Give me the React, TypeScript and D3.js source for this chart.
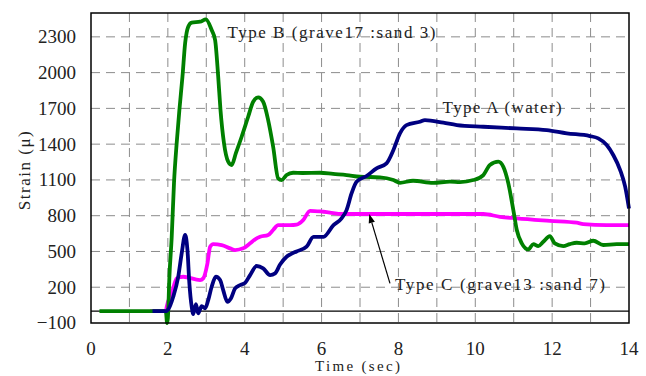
import React from "react";
import * as d3 from "d3";

// Strain records over time for three fill types: [time (sec), strain (μ)]
const typeA: [number, number][] = [
  [1.6, 0], [1.97, 0], [2.01, 14], [2.14, 120], [2.27, 288], [2.36, 484], [2.45, 638], [2.51, 512],
  [2.56, 232], [2.62, 36], [2.66, -25], [2.73, 59], [2.79, -19], [2.88, 42], [2.97, 23], [3.05, 92],
  [3.14, 204], [3.25, 288], [3.36, 260], [3.44, 176], [3.55, 78], [3.64, 106], [3.75, 190], [3.88, 218],
  [4.01, 237], [4.14, 302], [4.31, 378], [4.48, 358], [4.66, 302], [4.79, 316], [4.92, 390], [5.09, 456],
  [5.2, 478], [5.35, 500], [5.61, 540], [5.79, 623], [6.05, 623], [6.31, 721], [6.52, 778], [6.65, 847],
  [6.78, 987], [6.91, 1085], [7.17, 1133], [7.43, 1197], [7.69, 1239], [7.87, 1351], [8.04, 1491],
  [8.21, 1560], [8.56, 1588], [8.69, 1602], [9.17, 1580], [9.52, 1560], [10.21, 1546], [11.08, 1532],
  [11.86, 1518], [12.38, 1491], [12.98, 1468], [13.2, 1449], [13.42, 1393], [13.59, 1309], [13.77, 1183],
  [13.9, 1043], [14.0, 860],
];

const typeB: [number, number][] = [
  [0.22, 0], [1.9, 0], [1.95, -10], [1.98, -100], [2.0, -60], [2.04, 285], [2.1, 620], [2.16, 1075],
  [2.23, 1410], [2.3, 1686], [2.38, 1966], [2.45, 2248], [2.53, 2385], [2.62, 2420], [2.84, 2427],
  [2.99, 2447], [3.14, 2357], [3.23, 2273], [3.31, 1966], [3.37, 1686], [3.46, 1410], [3.57, 1253],
  [3.66, 1225], [3.77, 1325], [3.92, 1462], [4.09, 1630], [4.22, 1756], [4.35, 1793], [4.48, 1756],
  [4.61, 1602], [4.74, 1378], [4.87, 1113], [4.96, 1099], [5.09, 1141], [5.26, 1160], [5.5, 1158],
  [5.96, 1160], [6.3, 1150], [6.65, 1141], [7.0, 1127], [7.52, 1122], [7.87, 1099], [8.04, 1076],
  [8.38, 1093], [8.9, 1076], [9.34, 1085], [9.6, 1082], [9.95, 1099], [10.21, 1141], [10.38, 1225],
  [10.6, 1253], [10.73, 1210], [10.86, 1071], [10.99, 847], [11.08, 680], [11.21, 568], [11.38, 517],
  [11.51, 562], [11.64, 545], [11.77, 581], [11.94, 629], [12.07, 568], [12.29, 545], [12.46, 562],
  [12.64, 573], [12.85, 568], [13.07, 590], [13.33, 554], [13.68, 562], [14.0, 562],
];

const typeC: [number, number][] = [
  [1.54, 0], [1.95, 0], [1.97, 36], [2.1, 148], [2.23, 274], [2.4, 288], [2.84, 260], [2.92, 274],
  [3.03, 400], [3.1, 540], [3.18, 562], [3.4, 554], [3.62, 526], [3.75, 512], [3.96, 526], [4.14, 568],
  [4.27, 601], [4.4, 623], [4.61, 638], [4.74, 680], [4.87, 721], [5.18, 721], [5.35, 725], [5.52, 763],
  [5.7, 841], [6.05, 833], [6.57, 814], [9.34, 814], [10.21, 814], [10.64, 791], [11.08, 778],
  [11.94, 757], [12.64, 741], [12.81, 730], [13.42, 721], [14.0, 721],
];

const yTicks = [-100, 200, 500, 800, 1100, 1400, 1700, 2000, 2300];
const xTicks = [0, 2, 4, 6, 8, 10, 12, 14];
const xGrid = [1, 2, 3, 4, 5, 6, 7, 8, 9, 10, 11, 12, 13];

const labelB = "Type B (grave17 :sand 3)";
const labelA = "Type A (water)";
const labelC = "Type C (grave13 :sand 7)";

const W = 646;
const H = 376;
const left = 91;
const right = 629;
const top = 13;
const bottom = 323;

const FONT = "'Liberation Serif', 'DejaVu Serif', serif";

export default function App() {
  const x = d3.scaleLinear().domain([0, 14]).range([left, right]);
  const y = d3.scaleLinear().domain([-100, 2500]).range([bottom, top]);

  const line = d3
    .line<[number, number]>()
    .x((d) => x(d[0]))
    .y((d) => y(d[1]))
    .curve(d3.curveMonotoneX);

  const gridColor = "#8c8c8c";
  const dash = "9,6";

  // arrow from Type C label to its curve
  const arrowFrom: [number, number] = [7.78, 232];
  const arrowTo: [number, number] = [7.24, 814];
  const ax0 = x(arrowFrom[0]);
  const ay0 = y(arrowFrom[1]);
  const ax1 = x(arrowTo[0]);
  const ay1 = y(arrowTo[1]);
  const ang = Math.atan2(ay1 - ay0, ax1 - ax0);
  const headLen = 9;
  const headW = 3.2;
  const hx = ax1 - headLen * Math.cos(ang);
  const hy = ay1 - headLen * Math.sin(ang);
  const head = [
    [ax1, ay1],
    [hx + headW * Math.sin(ang), hy - headW * Math.cos(ang)],
    [hx - headW * Math.sin(ang), hy + headW * Math.cos(ang)],
  ]
    .map((p) => p.join(","))
    .join(" ");

  return (
    <svg
      width={W}
      height={H}
      style={{ position: "absolute", left: 0, top: 0, background: "#fff" }}
      fontFamily={FONT}
    >
      <rect x={0} y={0} width={W} height={H} fill="#fff" />

      {/* grid */}
      {xGrid.map((t) => (
        <line
          key={"gx" + t}
          x1={x(t)}
          x2={x(t)}
          y1={top}
          y2={bottom}
          stroke={gridColor}
          strokeWidth={1}
          strokeDasharray={dash}
        />
      ))}
      {yTicks
        .filter((v) => v > -100)
        .map((v) => (
          <line
            key={"gy" + v}
            x1={left}
            x2={right}
            y1={y(v)}
            y2={y(v)}
            stroke={gridColor}
            strokeWidth={1}
            strokeDasharray={dash}
          />
        ))}

      {/* zero line */}
      <line x1={left} x2={right} y1={y(0)} y2={y(0)} stroke="#000" strokeWidth={1.2} />

      {/* series */}
      <path d={line(typeC) ?? ""} fill="none" stroke="#ff00ff" strokeWidth={3.8} strokeLinejoin="round" />
      <path d={line(typeB) ?? ""} fill="none" stroke="#008000" strokeWidth={3.8} strokeLinejoin="round" />
      <path d={line(typeA) ?? ""} fill="none" stroke="#000080" strokeWidth={3.8} strokeLinejoin="round" />

      {/* frame */}
      <rect x={left} y={top} width={right - left} height={bottom - top} fill="none" stroke="#000" strokeWidth={1.5} />

      {/* y tick labels */}
      {yTicks.map((v) => (
        <text
          key={"yt" + v}
          x={left - 15}
          y={y(v)}
          dy="0.34em"
          textAnchor="end"
          fontSize={19}
          fill="#222"
        >
          {v < 0 ? "\u2212" + Math.abs(v) : v}
        </text>
      ))}

      {/* x tick labels */}
      {xTicks.map((t) => (
        <text key={"xt" + t} x={x(t)} y={355} textAnchor="middle" fontSize={19} fill="#222">
          {t}
        </text>
      ))}

      {/* axis titles */}
      <text x={315} y={371} fontSize={15} fill="#222" textLength={85} lengthAdjust="spacing">
        Time (sec)
      </text>
      <text
        transform={`translate(30,170) rotate(-90)`}
        textAnchor="middle"
        fontSize={17}
        fill="#222"
        letterSpacing={1.5}
      >
        Strain (μ)
      </text>

      {/* series labels */}
      <text x={x(3.55)} y={y(2290)} fontSize={17} fill="#222" textLength={208} lengthAdjust="spacing">
        {labelB}
      </text>
      <text x={x(9.15)} y={y(1658)} fontSize={17} fill="#222" textLength={119} lengthAdjust="spacing">
        {labelA}
      </text>
      <text x={x(7.91)} y={y(176)} fontSize={17} fill="#222" textLength={210} lengthAdjust="spacing">
        {labelC}
      </text>

      {/* arrow */}
      <line x1={ax0} y1={ay0} x2={hx} y2={hy} stroke="#000" strokeWidth={1.2} />
      <polygon points={head} fill="#000" />
    </svg>
  );
}
